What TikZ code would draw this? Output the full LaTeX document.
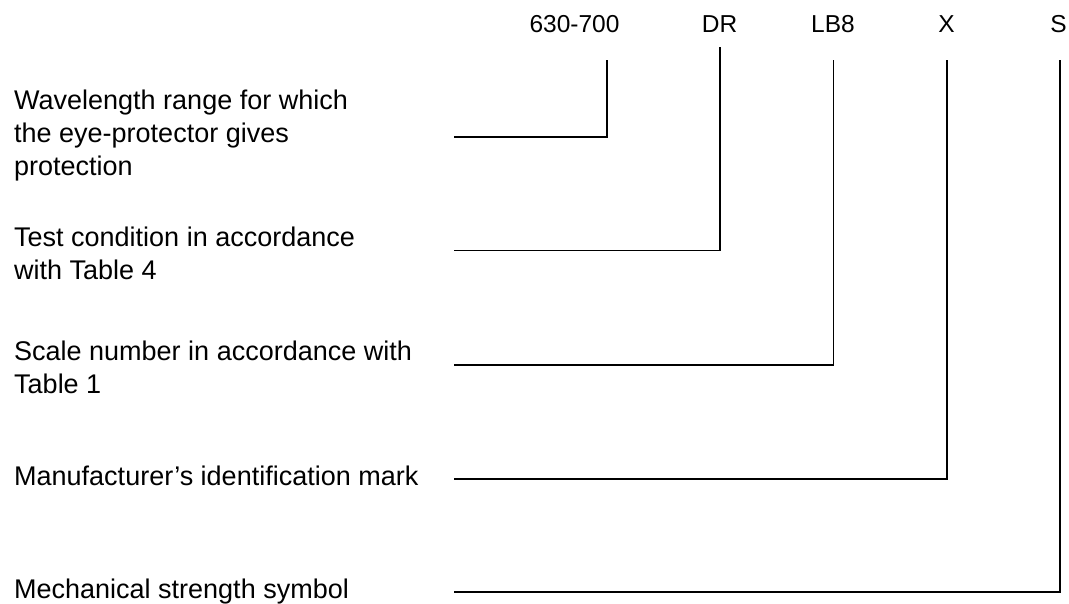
\documentclass[tikz,border=0pt]{standalone}
\usepackage{fontspec}
\setmainfont{Liberation Sans}
\begin{document}
\begin{tikzpicture}[x=1pt,y=-1pt,
  desc/.style={inner sep=0pt, font=\fontsize{27}{33}\selectfont, anchor=base west},
  code/.style={inner sep=0pt, font=\fontsize{24.5}{30}\selectfont, anchor=base},
  lead/.style={line width=1.8pt, line join=miter, line cap=rect}]
\useasboundingbox (0,0) rectangle (1069,603);
% top codes
\node[code] (c1) at (574.5,32.5) {630-700};
\node[code] (c2) at (719.5,32.5) {DR};
\node[code] (c3) at (833,32.5) {LB8};
\node[code] (c4) at (946.5,32.5) {X};
\node[code] (c5) at (1058.5,32.5) {S};
% descriptions
\node[desc] (d1a) at (14,109) {Wavelength range for which};
\node[desc] (d1b) at (14,142) {the eye-protector gives};
\node[desc] (d1c) at (14,175) {protection};
\node[desc] (d2a) at (14,246) {Test condition in accordance};
\node[desc] (d2b) at (14,279) {with Table 4};
\node[desc] (d3a) at (14,360) {Scale number in accordance with};
\node[desc] (d3b) at (14,393) {Table 1};
\node[desc] (d4) at (14,485) {Manufacturer’s identification mark};
\node[desc] (d5) at (14,598) {Mechanical strength symbol};
% leader end points
\coordinate (t1) at (606.7,61);
\coordinate (t2) at (720,48);
\coordinate (t3) at (833.5,61);
\coordinate (t4) at (947,61);
\coordinate (t5) at (1060,61);
\coordinate (s1) at (455,137);
\coordinate (s2) at (455,250.5);
\coordinate (s3) at (455,365);
\coordinate (s4) at (455,479);
\coordinate (s5) at (455,592);
\draw[lead] (s1) -| (t1);
\draw[lead] (s2) -| (t2);
\draw[lead] (s3) -| (t3);
\draw[lead] (s4) -| (t4);
\draw[lead] (s5) -| (t5);
\end{tikzpicture}
\end{document}
